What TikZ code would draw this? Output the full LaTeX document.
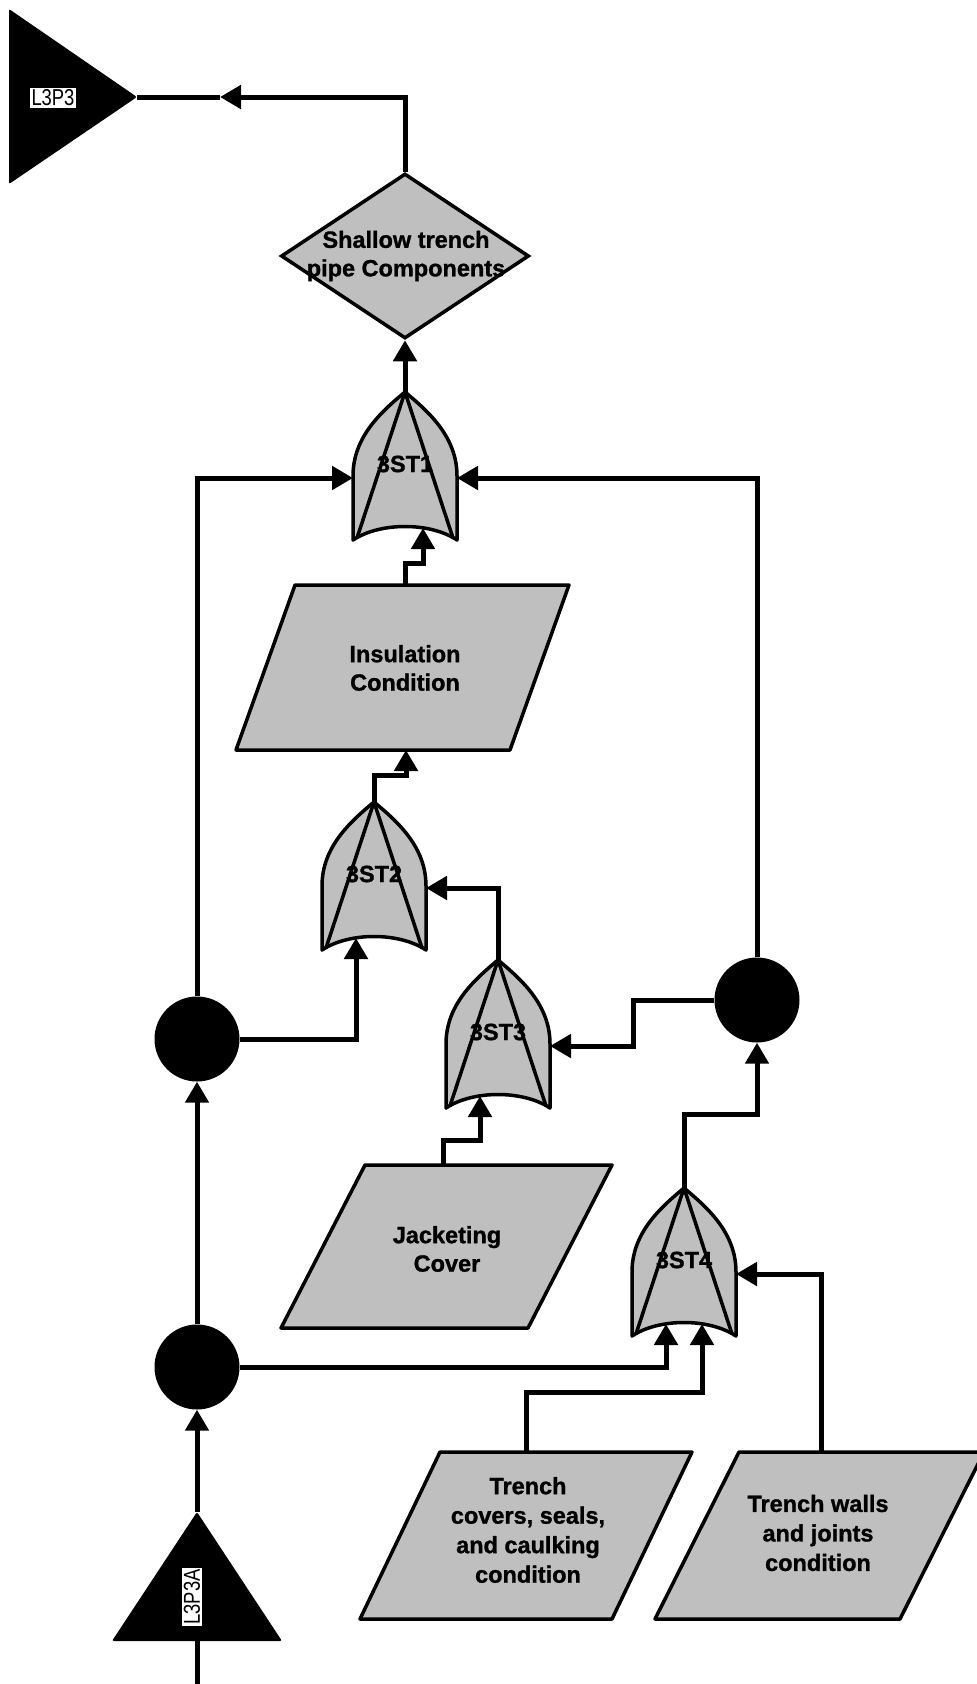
\documentclass[tikz,border=0pt]{standalone}
\usepackage{fontspec}
\setmainfont{Liberation Sans}[BoldFeatures={FakeBold=1.2}]
\usetikzlibrary{arrows.meta,shapes.geometric,calc}
\definecolor{stip}{gray}{0.75}
\tikzset{
  conn/.style={line width=5pt, -{Triangle[length=21pt,width=23pt]}},
  wire/.style={line width=5pt},
  outline/.style={line width=3.5pt, line join=round},
  bigtext/.style={font=\bfseries\fontsize{23.5}{28.5}\selectfont, align=center, inner sep=0pt},
  gatetext/.style={font=\bfseries\fontsize{23.5}{26}\selectfont, inner sep=0pt},
  tag/.style={fill=white, font=\fontsize{23}{24}\selectfont, inner sep=1.5pt},
  junction/.style={circle, fill=black, minimum size=85pt, inner sep=0pt},
  pics/orgate/.style={code={
    \fill[stip] (-52,148) -- (-52,84) .. controls (-52,45) and (-24,20) .. (0,0)
       .. controls (24,20) and (52,45) .. (52,84) -- (52,148)
       .. controls (25,130) and (-25,130) .. (-52,148) -- cycle;
    \node[gatetext] (-lab) at (0,72) {#1};
    \draw[outline] (-52,148) -- (-52,84) .. controls (-52,45) and (-24,20) .. (0,0)
       .. controls (24,20) and (52,45) .. (52,84) -- (52,148)
       .. controls (25,130) and (-25,130) .. (-52,148) -- cycle;
    \draw[outline] (-48,146) -- (0,0) -- (48,146);
    \coordinate (-tip) at (0,0);
    \coordinate (-l) at (-52,86);
    \coordinate (-r) at (52,86);
    \coordinate (-bl) at (-18,136);
    \coordinate (-br) at (18,136);
  }}
}
\begin{document}
\begin{tikzpicture}[x=1pt,y=-1pt]
\path[use as bounding box, fill=white] (0,0) rectangle (977,1684);

% top off-page triangle
\fill[rounded corners=2pt] (9,9) -- (137,97) -- (9,184) -- cycle;
\coordinate (L3P3apex) at (137,97);
\node[tag] (L3P3) at (53,98) {\scalebox{0.8}[1]{L3P3}};

% diamond
\node[diamond, draw, line width=3.5pt, fill=stip, minimum width=248pt, minimum height=165pt, inner sep=0pt] (d) at (405,256) {};
\node[bigtext] (dtext) at (406,256) {Shallow trench\\pipe Components};

% gates
\pic (g1) at (405,392) {orgate=3ST1};
\pic (g2) at (374,802) {orgate=3ST2};
\pic (g3) at (498,960) {orgate=3ST3};
\pic (g4) at (684,1188) {orgate=3ST4};

% parallelograms
\draw[outline, fill=stip] (295,585) -- (569,585) -- (510,750) -- (236,750) -- cycle;
\node[bigtext] (ins) at (405,668) {Insulation\\Condition};
\coordinate (ins-top) at (405,585);
\coordinate (ins-bot) at (406,750);

\draw[outline, fill=stip] (365,1165) -- (612,1165) -- (528,1328) -- (281,1328) -- cycle;
\node[bigtext] (jac) at (447,1249) {Jacketing\\Cover};
\coordinate (jac-top) at (443,1165);

\draw[outline, fill=stip] (440,1452) -- (692,1452) -- (612,1619) -- (360,1619) -- cycle;
\node[bigtext, font=\bfseries\fontsize{23.5}{29.5}\selectfont] (tc) at (528,1530) {Trench\\covers, seals,\\and caulking\\condition};
\coordinate (tc-top) at (526,1452);

\draw[outline, fill=stip] (739,1452) -- (984,1452) -- (900,1619) -- (655,1619) -- cycle;
\node[bigtext, font=\bfseries\fontsize{23.5}{29.5}\selectfont] (tw) at (818,1533) {Trench walls\\and joints\\condition};
\coordinate (tw-top) at (821,1452);

% junctions
\node[junction] (c1) at (197,1039) {};
\node[junction] (c2) at (757,1000) {};
\node[junction] (c0) at (197,1367) {};

% bottom off-page triangle
\fill[rounded corners=2pt] (197,1512) -- (282,1641) -- (112,1641) -- cycle;
\coordinate (Aapex) at (197,1512);
\coordinate (Abase) at (197,1641);
\coordinate (Aend) at (197,1690);
\node[tag, rotate=90] (L3P3A) at (192,1597) {\scalebox{0.8}[1]{L3P3A}};

% connectors
\coordinate (topmid) at (220,97);
\draw[conn] (d.north) |- (topmid);
\draw[wire] (topmid) -- (L3P3apex);
\draw[conn] (g1-tip) -- (d.south);
\draw[conn] (ins-top) -- ++(0,-22) -| (g1-br);
\draw[conn] (c1.north) |- (g1-l);
\draw[conn] (c2.north) |- (g1-r);
\draw[conn] (g2-tip) -- ++(0,-27) -| (ins-bot);
\draw[conn] (g3-tip) |- (g2-r);
\draw[conn] (c1.east) -| (g2-bl);
\draw[conn] (c2.west) -- ++(-81,0) |- (g3-r);
\draw[conn] (jac-top) -- ++(0,-25) -| (g3-bl);
\draw[conn] (g4-tip) -- ++(0,-74) -| (c2.south);
\draw[conn] (c0.north) -- (c1.south);
\draw[conn] (c0.east) -| (g4-bl);
\draw[conn] (tc-top) -- ++(0,-60) -| (g4-br);
\draw[conn] (tw-top) |- (g4-r);
\draw[conn] (Aapex) -- (c0.south);
\draw[wire] (Abase) -- (Aend);
\end{tikzpicture}
\end{document}
